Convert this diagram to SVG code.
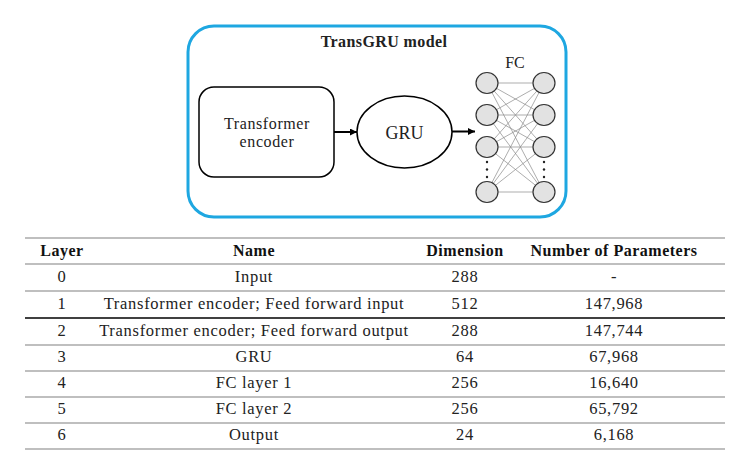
<svg xmlns="http://www.w3.org/2000/svg" width="745" height="457" viewBox="0 0 745 457">
<style>
.t{font-family:"Liberation Serif","Times New Roman",serif;fill:#222}
.dg{font-size:16px;letter-spacing:0.6px;text-anchor:middle}
.tb{font-size:16.5px;letter-spacing:0.7px;text-anchor:middle}
.th{font-size:16px;font-weight:bold;letter-spacing:0.5px;text-anchor:middle;fill:#111}
.nd{fill:#e2e2e2;stroke:#333;stroke-width:1.2}
.fc line{stroke:#8a8a8a;stroke-width:0.7}
.rl{stroke:#808080;stroke-width:1.1}
.dot{fill:#222}
</style>
<defs>
<marker id="ah" viewBox="0 0 10 10" refX="10" refY="5" markerWidth="7" markerHeight="7" markerUnits="userSpaceOnUse" orient="auto">
<path d="M0,0 L10,5 L0,10 z" fill="#000"/>
</marker>
</defs>
<rect fill="#fff" width="745" height="457"/>
<g id="model">
<rect x="188" y="26" width="378" height="191" rx="26" fill="none" stroke="#1ea7e1" stroke-width="3"/>
<text class="t" x="384" y="47" font-size="16" font-weight="bold" letter-spacing="0.4" text-anchor="middle" fill="#111">TransGRU model</text>
</g>
<g id="transformer">
<rect x="199" y="87" width="135" height="90" rx="15" fill="#fff" stroke="#000" stroke-width="1.5"/>
<text class="t dg" x="267" y="129">Transformer</text>
<text class="t dg" x="267" y="147">encoder</text>
</g>
<g id="gru">
<ellipse cx="404.5" cy="132" rx="47.5" ry="36" fill="#fff" stroke="#000" stroke-width="1.5"/>
<text class="t" x="404.5" y="138.5" font-size="18" text-anchor="middle">GRU</text>
</g>
<g id="fc" class="fc">
<text class="t" x="515" y="68" font-size="16" text-anchor="middle">FC</text>
<line x1="487" y1="83" x2="544" y2="83"/><line x1="487" y1="83" x2="544" y2="115"/><line x1="487" y1="83" x2="544" y2="147"/><line x1="487" y1="83" x2="544" y2="192"/>
<line x1="487" y1="115" x2="544" y2="83"/><line x1="487" y1="115" x2="544" y2="115"/><line x1="487" y1="115" x2="544" y2="147"/><line x1="487" y1="115" x2="544" y2="192"/>
<line x1="487" y1="147" x2="544" y2="83"/><line x1="487" y1="147" x2="544" y2="115"/><line x1="487" y1="147" x2="544" y2="147"/><line x1="487" y1="147" x2="544" y2="192"/>
<line x1="487" y1="192" x2="544" y2="83"/><line x1="487" y1="192" x2="544" y2="115"/><line x1="487" y1="192" x2="544" y2="147"/><line x1="487" y1="192" x2="544" y2="192"/>
<ellipse class="nd" cx="487" cy="83" rx="11" ry="10.5"/>
<ellipse class="nd" cx="487" cy="115" rx="11" ry="10.5"/>
<ellipse class="nd" cx="487" cy="147" rx="11" ry="10.5"/>
<ellipse class="nd" cx="487" cy="192" rx="11" ry="10.5"/>
<ellipse class="nd" cx="544" cy="83" rx="11" ry="10.5"/>
<ellipse class="nd" cx="544" cy="115" rx="11" ry="10.5"/>
<ellipse class="nd" cx="544" cy="147" rx="11" ry="10.5"/>
<ellipse class="nd" cx="544" cy="192" rx="11" ry="10.5"/>
<circle class="dot" cx="487" cy="162" r="1.2"/><circle class="dot" cx="487" cy="169.5" r="1.2"/><circle class="dot" cx="487" cy="177" r="1.2"/>
<circle class="dot" cx="544" cy="162" r="1.2"/><circle class="dot" cx="544" cy="169.5" r="1.2"/><circle class="dot" cx="544" cy="177" r="1.2"/>
</g>
<g id="connectors" stroke="#000" stroke-width="2">
<line x1="334" y1="132" x2="357" y2="132" marker-end="url(#ah)"/>
<line x1="452" y1="131.5" x2="475" y2="131.5" marker-end="url(#ah)"/>
</g>
<g id="table">
<line class="rl" x1="25" y1="238" x2="725" y2="238"/>
<line class="rl" x1="25" y1="264" x2="725" y2="264"/>
<line class="rl" x1="25" y1="291" x2="725" y2="291"/>
<line x1="25" y1="318" x2="725" y2="318" stroke="#000" stroke-width="1.4"/>
<line class="rl" x1="25" y1="345" x2="725" y2="345"/>
<line class="rl" x1="25" y1="371" x2="725" y2="371"/>
<line class="rl" x1="25" y1="397" x2="725" y2="397"/>
<line class="rl" x1="25" y1="423" x2="725" y2="423"/>
<line class="rl" x1="25" y1="449" x2="725" y2="449"/>
<text class="t th" x="62" y="256">Layer</text>
<text class="t th" x="254" y="256">Name</text>
<text class="t th" x="465" y="256">Dimension</text>
<text class="t th" x="614" y="256">Number of Parameters</text>
<text class="t tb" x="62" y="282">0</text><text class="t tb" x="254" y="282">Input</text><text class="t tb" x="465" y="282">288</text><text class="t tb" x="614" y="282">-</text>
<text class="t tb" x="62" y="309">1</text><text class="t tb" x="254" y="309">Transformer encoder; Feed forward input</text><text class="t tb" x="465" y="309">512</text><text class="t tb" x="614" y="309">147,968</text>
<text class="t tb" x="62" y="336">2</text><text class="t tb" x="254" y="336">Transformer encoder; Feed forward output</text><text class="t tb" x="465" y="336">288</text><text class="t tb" x="614" y="336">147,744</text>
<text class="t tb" x="62" y="362">3</text><text class="t tb" x="254" y="362">GRU</text><text class="t tb" x="465" y="362">64</text><text class="t tb" x="614" y="362">67,968</text>
<text class="t tb" x="62" y="388">4</text><text class="t tb" x="254" y="388">FC layer 1</text><text class="t tb" x="465" y="388">256</text><text class="t tb" x="614" y="388">16,640</text>
<text class="t tb" x="62" y="414">5</text><text class="t tb" x="254" y="414">FC layer 2</text><text class="t tb" x="465" y="414">256</text><text class="t tb" x="614" y="414">65,792</text>
<text class="t tb" x="62" y="440">6</text><text class="t tb" x="254" y="440">Output</text><text class="t tb" x="465" y="440">24</text><text class="t tb" x="614" y="440">6,168</text>
</g>
</svg>
